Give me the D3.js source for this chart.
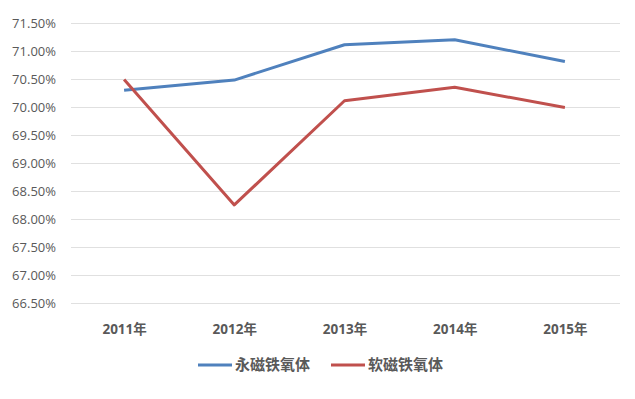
<!DOCTYPE html>
<html>
<head>
<meta charset="utf-8">
<script src="https://cdn.jsdelivr.net/npm/d3@7"></script>
<style>
  body { margin: 0; background: #fff; }
  text { font-family: "Open Sans", "Noto Sans CJK SC", sans-serif; }
</style>
</head>
<body>
<div id="chart"></div>
<script>
// chart data
const years = ["2011年", "2012年", "2013年", "2014年", "2015年"];
const hardFerrite = [70.31, 70.49, 71.12, 71.21, 70.82];   // 永磁铁氧体
const softFerrite = [70.50, 68.26, 70.12, 70.36, 70.00];   // 软磁铁氧体
const yTicks = [66.5, 67, 67.5, 68, 68.5, 69, 69.5, 70, 70.5, 71, 71.5];

const series = [
  { name: "永磁铁氧体", values: hardFerrite, color: "#4F81BD" },
  { name: "软磁铁氧体", values: softFerrite, color: "#C0504D" }
];

const width = 635, height = 399;
const margin = { top: 23.5, right: 15, bottom: 95.5, left: 69 };

const svg = d3.select("#chart").append("svg")
  .attr("width", width)
  .attr("height", height);

const x = d3.scalePoint()
  .domain(years)
  .range([margin.left, width - margin.right])
  .padding(0.5);

const y = d3.scaleLinear()
  .domain([66.5, 71.5])
  .range([height - margin.bottom, margin.top]);

// gridlines
svg.append("g")
  .selectAll("line")
  .data(yTicks)
  .enter().append("line")
  .attr("x1", margin.left + 2)
  .attr("x2", width - margin.right)
  .attr("y1", d => y(d))
  .attr("y2", d => y(d))
  .attr("stroke", "#e0e0e0")
  .attr("stroke-width", 1);

// y axis labels
const yAxis = d3.axisLeft(y)
  .tickValues(yTicks)
  .tickFormat(d => d.toFixed(2) + "%")
  .tickSize(0)
  .tickPadding(0);

svg.append("g")
  .attr("transform", `translate(${margin.left - 13},0)`)
  .call(yAxis)
  .call(g => g.select(".domain").remove())
  .selectAll("text")
  .attr("font-size", "13px")
  .attr("fill", "#595959");

// x axis labels
const xAxis = d3.axisBottom(x).tickSize(0).tickPadding(0);
svg.append("g")
  .attr("transform", `translate(0,${height - margin.bottom + 21})`)
  .call(xAxis)
  .call(g => g.select(".domain").remove())
  .selectAll("text")
  .attr("font-size", "13.5px")
  .attr("font-weight", "bold")
  .attr("fill", "#595959");

// lines
const line = d3.line()
  .x((d, i) => x(years[i]))
  .y(d => y(d));

svg.selectAll(".series")
  .data(series)
  .enter().append("path")
  .attr("class", "series")
  .attr("fill", "none")
  .attr("stroke", d => d.color)
  .attr("stroke-width", 3)
  .attr("stroke-linejoin", "round")
  .attr("d", d => line(d.values));

// legend
const legendX = [198, 331];
const legend = svg.selectAll(".legend")
  .data(series)
  .enter().append("g")
  .attr("class", "legend")
  .attr("transform", (d, i) => `translate(${legendX[i]},365)`);

legend.append("line")
  .attr("x1", 0).attr("x2", 34)
  .attr("y1", 0).attr("y2", 0)
  .attr("stroke", d => d.color)
  .attr("stroke-width", 3);

legend.append("text")
  .attr("x", 37)
  .attr("y", 0)
  .attr("dy", "0.35em")
  .attr("font-size", "15px")
  .attr("font-weight", "bold")
  .attr("fill", "#595959")
  .text(d => d.name);
</script>
</body>
</html>
